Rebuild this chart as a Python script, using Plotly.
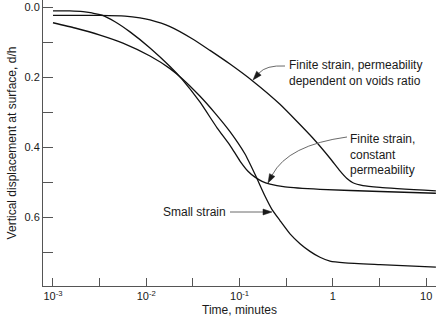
import math
import plotly.graph_objects as go

# ---------------- data ----------------
time_small = [0.001, 0.00172, 0.00319, 0.00562, 0.01096, 0.01796, 0.0241, 0.0377, 0.0545,
              0.0789, 0.1143, 0.1463, 0.187, 0.222, 0.271, 0.347, 0.444, 0.568, 0.727,
              0.931, 1.35, 3.2, 12.7]
disp_small = [0.045, 0.060, 0.080, 0.103, 0.140, 0.176, 0.204, 0.255, 0.303,
              0.356, 0.420, 0.478, 0.540, 0.578, 0.610, 0.648, 0.676, 0.698, 0.715,
              0.726, 0.731, 0.736, 0.743]

time_const = [0.001, 0.00152, 0.0021, 0.00262, 0.00335, 0.00462, 0.00669, 0.01096, 0.01796,
              0.0241, 0.0377, 0.0573, 0.0789, 0.101, 0.123, 0.1463, 0.174, 0.212, 0.307,
              0.727, 3.2, 12.7]
disp_const = [0.011, 0.011, 0.013, 0.017, 0.023, 0.042, 0.071, 0.117, 0.170,
              0.206, 0.272, 0.345, 0.395, 0.440, 0.469, 0.486, 0.498, 0.506, 0.514,
              0.521, 0.527, 0.532]

time_voids = [0.001, 0.00319, 0.00592, 0.00855, 0.01096, 0.01796, 0.0317, 0.0482, 0.0789,
              0.139, 0.271, 0.612, 0.931, 1.19, 1.415, 1.64, 2.10, 3.2, 12.7]
disp_voids = [0.024, 0.024, 0.026, 0.031, 0.037, 0.056, 0.092, 0.124, 0.163,
              0.212, 0.278, 0.375, 0.432, 0.468, 0.490, 0.502, 0.510, 0.515, 0.525]

x_tickvals = [0.001, 0.01, 0.1, 1, 10]
x_ticktext = ["10<sup>-3</sup>", "10<sup>-2</sup>", "10<sup>-1</sup>", "1", "10"]
x_minorvals = [0.00316, 0.0316, 0.316, 3.16]
y_tickvals = [0.0, 0.2, 0.4, 0.6]
y_ticktext = ["0.0", "0.2", "0.4", "0.6"]
y_minorvals = [0.1, 0.3, 0.5, 0.7]

label_voids = "Finite strain, permeability<br>dependent on voids ratio"
label_const = "Finite strain,<br>constant<br>permeability"
label_small = "Small strain"
x_title = "Time, minutes"
y_title = "Vertical displacement at surface, d/h"

# ---------------- layout helpers (page pixels -> paper coords) ----------------
W, H = 436, 318
L, R, T, B = 43, 0, 0, 32
PW, PH = W - L - R, H - T - B


def px(x):
    return (x - L) / PW


def py(y):
    return (H - B - y) / PH


def pt(x, y):
    return f"{px(x):.5f},{py(y):.5f}"


def head(tip, frm, length=9.0, half=3.0):
    dx, dy = tip[0] - frm[0], tip[1] - frm[1]
    n = math.hypot(dx, dy)
    ux, uy = dx / n, dy / n
    bx, by = tip[0] - ux * length, tip[1] - uy * length
    nx, ny = -uy, ux
    p1 = (bx + nx * half, by + ny * half)
    p2 = (bx - nx * half, by - ny * half)
    return f"M {pt(*tip)} L {pt(*p1)} L {pt(*p2)} Z", (bx, by)


FONT = "Liberation Sans, Arial, Helvetica, sans-serif"
INK = "#1a1a1a"
AXIS = "#555555"
ARROW = "#6a6a6a"

fig = go.Figure()
for xs, ys in [(time_voids, disp_voids), (time_const, disp_const), (time_small, disp_small)]:
    fig.add_trace(go.Scatter(x=xs, y=ys, mode="lines",
                             line=dict(color="#111111", width=1.3, shape="spline", smoothing=0.5),
                             hoverinfo="skip", showlegend=False))

shapes = []
# arrow 1 : permeability dependent on voids ratio
tip1, ctl1 = (253, 80), (266, 65)
hp, base = head(tip1, ctl1)
shapes.append(dict(type="path", xref="paper", yref="paper",
                   path=f"M {pt(285, 66)} Q {pt(*ctl1)} {pt(*base)}",
                   line=dict(color=ARROW, width=1)))
shapes.append(dict(type="path", xref="paper", yref="paper", path=hp,
                   fillcolor=INK, line=dict(color=INK, width=0.5)))
# arrow 2 : constant permeability
tip2, ctl2 = (268, 183), (288, 145)
hp, base = head(tip2, ctl2)
shapes.append(dict(type="path", xref="paper", yref="paper",
                   path=f"M {pt(347, 137)} Q {pt(*ctl2)} {pt(*base)}",
                   line=dict(color=ARROW, width=1)))
shapes.append(dict(type="path", xref="paper", yref="paper", path=hp,
                   fillcolor=INK, line=dict(color=INK, width=0.5)))
# arrow 3 : small strain
tip3, frm3 = (272, 212), (230, 212)
hp, base = head(tip3, frm3)
shapes.append(dict(type="path", xref="paper", yref="paper",
                   path=f"M {pt(*frm3)} L {pt(*base)}",
                   line=dict(color=ARROW, width=1)))
shapes.append(dict(type="path", xref="paper", yref="paper", path=hp,
                   fillcolor=INK, line=dict(color=INK, width=0.5)))

annotations = [
    dict(text=label_voids, x=px(287), y=py(73), xanchor="left", yanchor="middle", align="left"),
    dict(text=label_const, x=px(348), y=py(154), xanchor="left", yanchor="middle", align="left"),
    dict(text=label_small, x=px(228), y=py(212), xanchor="right", yanchor="middle", align="right"),
]
for a in annotations:
    a.update(xref="paper", yref="paper", showarrow=False,
             font=dict(family=FONT, size=12, color=INK))

fig.update_layout(
    width=W, height=H,
    margin=dict(l=L, r=R, t=T, b=B, pad=0),
    paper_bgcolor="white", plot_bgcolor="white",
    shapes=shapes, annotations=annotations,
    font=dict(family=FONT, size=11, color=INK),
    xaxis=dict(type="log", range=[-3.107, 1.105], tickvals=x_tickvals, ticktext=x_ticktext,
               ticks="inside", ticklen=8, tickwidth=1, tickcolor=AXIS,
               minor=dict(tickvals=x_minorvals, ticks="inside", ticklen=8, tickwidth=1,
                          tickcolor=AXIS, showgrid=False),
               showline=True, linecolor=AXIS, linewidth=1, showgrid=False, zeroline=False,
               automargin=False,
               title=dict(text=x_title, standoff=4, font=dict(family=FONT, size=12, color=INK)),
               tickfont=dict(family=FONT, size=11, color=INK)),
    yaxis=dict(range=[0.797, -0.02], tickvals=y_tickvals, ticktext=y_ticktext,
               ticks="inside", ticklen=10, tickwidth=1, tickcolor=AXIS,
               minor=dict(tickvals=y_minorvals, ticks="inside", ticklen=10, tickwidth=1,
                          tickcolor=AXIS, showgrid=False),
               showline=True, linecolor=AXIS, linewidth=1, showgrid=False, zeroline=False,
               automargin=False,
               title=dict(text=y_title, standoff=5, font=dict(family=FONT, size=12, color=INK)),
               tickfont=dict(family=FONT, size=11, color=INK)),
)

fig.write_html("out.html")
